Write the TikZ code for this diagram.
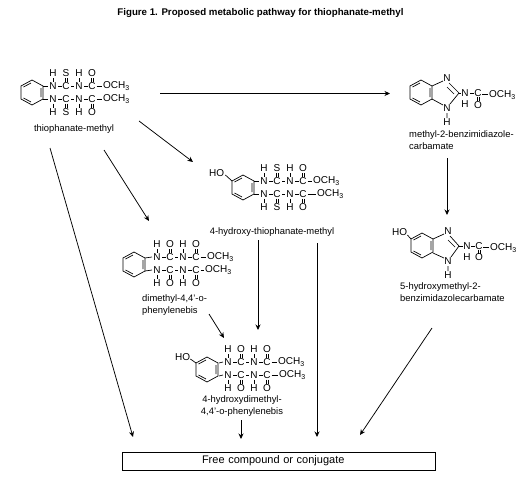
\documentclass[tikz,border=0pt]{standalone}
\usepackage{fontspec}
\setmainfont{Liberation Sans}
\usetikzlibrary{arrows.meta}
\tikzset{
  atom/.style={inner sep=0pt,font=\fontsize{10}{10}\selectfont},
  lbl/.style={inner sep=0pt,font=\fontsize{9.4}{12.5}\selectfont,align=left},
  bond/.style={line width=.7pt},
  flow/.style={line width=.75pt,-{Stealth[length=5.5pt,width=5pt]}}
}
% half chain: name, x, y, dir (-1 up, 1 down), X, offset of OCH3 start
\newcommand\halfchain[6]{%
\begin{scope}[shift={(#2,#3)}]
  \foreach \px/\t in {0/N,13/C,26/N,39/C}{\node[atom] (#1-\px) at (\px,0) {\t};}
  \node[atom,anchor=west] (#1-o) at (#6,0) {OCH\textsubscript{3}};
  \foreach \px/\t in {0/H,13/#5,26/H,39/O}{\node[atom] (#1-s\px) at (\px,#4*13) {\t};}
  \begin{scope}[yscale=#4]
  \draw[bond] (5,0)--(9,0) (18,0)--(21,0) (31,0)--(35,0);
  \draw[bond] (43.5,0)--(#6-1,0);
  \draw[bond] (0,4.5)--(0,8.5) (26,4.5)--(26,8.5);
  \draw[bond] (12,4.5)--(12,8.5) (14,4.5)--(14,8.5) (38,4.5)--(38,8.5) (40,4.5)--(40,8.5);
  \end{scope}
\end{scope}}
% benzene ring: cx, top y
\newcommand\ring[2]{%
\begin{scope}[shift={(#1,#2)}]
  \draw[bond] (0,0)--(11,6)--(11,19)--(0,25)--(-11,19)--(-11,6)--cycle;
  \draw[bond] (9,8)--(9,17) (-1,3)--(-8.5,7) (-1,22)--(-8.5,18);
\end{scope}}
\begin{document}
\begin{tikzpicture}[x=1pt,y=-1pt]
\useasboundingbox (0,0) rectangle (522,479);
\node[inner sep=0pt,font=\bfseries\fontsize{9.7}{10}\selectfont] (title) at (260.5,13) {Figure 1. Proposed metabolic pathway for thiophanate-methyl};

% thiophanate-methyl
\ring{32}{80}
\draw[bond] (43,86)--(48,86) (43,99)--(48,99);
\halfchain{a1}{53}{86}{-1}{S}{50}
\halfchain{a2}{53}{99}{1}{S}{50}
\node[lbl] (la) at (74,129) {thiophanate-methyl};

% 4-hydroxy-thiophanate-methyl
\ring{243}{175}
\node[atom,anchor=west] (hob) at (209,173) {HO};
\draw[bond] (hob.east)++(1,2)--(232,181);
\draw[bond] (254,181)--(259,181) (254,194)--(259,194);
\halfchain{b1}{264}{181}{-1}{S}{49}
\halfchain{b2}{264}{194}{1}{S}{53}
\node[lbl] (lb) at (272,232) {4-hydroxy-thiophanate-methyl};

% methyl-2-benzimidiazole-carbamate
\ring{421}{80}
\node[atom] (n1) at (447,78) {N};
\node[atom] (n2) at (447,108) {N};
\node[atom] (h1) at (447,122) {H};
\node[atom] (n3) at (465,93) {N};
\node[atom] (h3) at (465,104) {H};
\node[atom] (c3) at (478,93) {C};
\node[atom] (o3) at (478,105) {O};
\node[atom,anchor=west] (m3) at (489,95) {OCH\textsubscript{3}};
\draw[bond] (432,86)--(443,81) (432,99)--(443,105) (447,113)--(447,118);
\draw[bond] (449,83)--(459,93)--(450,104) (447,87)--(454,94);
\draw[bond] (459,93)--(461,93) (470,93)--(474,93) (482,94)--(488,94);
\draw[bond] (477,97)--(477,101) (479,97)--(479,101);
\node[lbl,anchor=north west] (lc) at (409,130) {methyl-2-benzimidiazole-\\carbamate};

% 5-hydroxymethyl-2-benzimidazolecarbamate
\ring{422}{233}
\node[atom,anchor=west] (hod) at (392,232) {HO};
\draw[bond] (hod.east)++(0,3)--(411,239);
\node[atom] (n4) at (448,231) {N};
\node[atom] (n5) at (448,261) {N};
\node[atom] (h5) at (448,275) {H};
\node[atom] (n6) at (467,246) {N};
\node[atom] (h6) at (467,257) {H};
\node[atom] (c6) at (479,246) {C};
\node[atom] (o6) at (479,257) {O};
\node[atom,anchor=west] (m6) at (490,248) {OCH\textsubscript{3}};
\draw[bond] (433,239)--(444,234) (433,253)--(444,258) (448,266)--(448,271);
\draw[bond] (450,236)--(459,246)--(451,257) (448,240)--(455,247);
\draw[bond] (459,246)--(463,246) (471,246)--(475,246) (483,247)--(489,247);
\draw[bond] (478,250)--(478,254) (480,250)--(480,254);
\node[lbl,anchor=north west] (ld) at (400,282) {5-hydroxymethyl-2-\\benzimidazolecarbamate};

% dimethyl-4,4'-o-phenylenebis
\ring{134}{252}
\draw[bond] (145,258)--(152,257) (145,271)--(152,270);
\halfchain{e1}{157}{257}{-1}{O}{50}
\halfchain{e2}{157}{270}{1}{O}{48}
\node[lbl,anchor=north west] (le) at (142,294) {dimethyl-4,4'-o-\\phenylenebis};

% 4-hydroxydimethyl-4,4'-o-phenylenebis
\ring{207}{357}
\node[atom,anchor=west] (hof) at (175,357) {HO};
\draw[bond] (hof.east)++(0,2)--(196,363);
\draw[bond] (219,363)--(223,362) (219,376)--(223,375);
\halfchain{f1}{228}{362}{-1}{O}{50}
\halfchain{f2}{228}{375}{1}{O}{51}
\node[lbl,align=center,anchor=north] (lf) at (242,395) {4-hydroxydimethyl-\\4,4'-o-phenylenebis};

% final box
\node[draw,line width=.8pt,minimum height=18pt,text width=313pt,align=left,inner xsep=0pt,inner ysep=0pt,font=\fontsize{11}{11}\selectfont] (free) at (278.5,461) {\hspace*{80pt}Free compound or conjugate};

% connector ends
\coordinate (a0) at (160,93.5);  \coordinate (a3) at (390,93.5);
\coordinate (b0) at (139,121);   \coordinate (b3) at (193,162);
\coordinate (c0) at (104,150);   \coordinate (c3e) at (149,221);
\coordinate (d0) at (50,148);    \coordinate (d3) at (133,437);
\coordinate (e0) at (447,158);   \coordinate (e3) at (447,215);
\coordinate (f0) at (258,240);   \coordinate (f3) at (258,330);
\coordinate (g0) at (317,243);   \coordinate (g3) at (317,437);
\coordinate (h0) at (209,314);   \coordinate (h3e) at (224,338);
\coordinate (i0) at (241,420);   \coordinate (i3) at (241,439);
\coordinate (j0) at (432,328);   \coordinate (j3) at (360,435);
\foreach \s/\t in {a0/a3,b0/b3,c0/c3e,d0/d3,e0/e3,f0/f3,g0/g3,h0/h3e,i0/i3,j0/j3}{\draw[flow] (\s)--(\t);}
\end{tikzpicture}
\end{document}
